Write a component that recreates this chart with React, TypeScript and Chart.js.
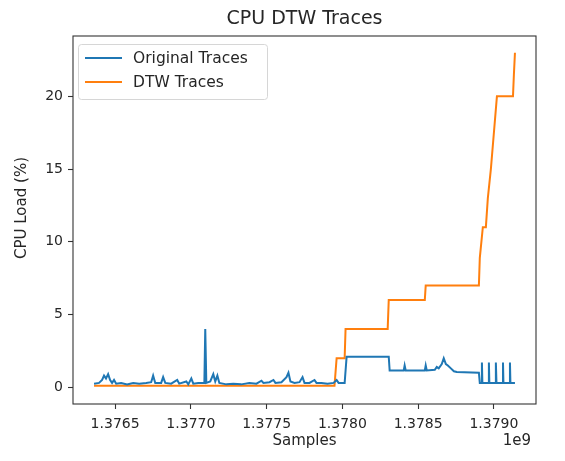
import React, { useEffect, useRef } from "react";
import { Chart, registerables } from "chart.js";

Chart.register(...registerables);

const chartTitle = "CPU DTW Traces";
const xAxisLabel = "Samples";
const yAxisLabel = "CPU Load (%)";
const xOffsetLabel = "1e9";
const seriesNames = ["Original Traces", "DTW Traces"];
const seriesColors = ["#1f77b4", "#ff7f0e"];

const xTicks = [1376500000, 1377000000, 1377500000, 1378000000, 1378500000, 1379000000];
const yTicks = [0, 5, 10, 15, 20];

const originalX = [
  1376361000, 1376394000, 1376414000, 1376427000, 1376440000, 1376454000, 1376467000, 1376480000,
  1376493000, 1376507000, 1376540000, 1376579000, 1376619000, 1376659000, 1376705000, 1376738000,
  1376751000, 1376765000, 1376804000, 1376817000, 1376831000, 1376870000, 1376910000, 1376923000,
  1376970000, 1376983000, 1377003000, 1377016000, 1377049000, 1377089000, 1377095000, 1377102000,
  1377128000, 1377148000, 1377161000, 1377175000, 1377188000, 1377234000, 1377280000, 1377333000,
  1377386000, 1377433000, 1377466000, 1377479000, 1377519000, 1377545000, 1377558000, 1377598000,
  1377631000, 1377644000, 1377657000, 1377684000, 1377717000, 1377737000, 1377750000, 1377783000,
  1377816000, 1377829000, 1377862000, 1377902000, 1377942000, 1377962000, 1377975000, 1378015000,
  1378028000, 1378306000, 1378312000, 1378405000, 1378411000, 1378418000, 1378544000, 1378550000,
  1378557000, 1378610000, 1378623000, 1378636000, 1378656000, 1378669000, 1378683000, 1378696000,
  1378716000, 1378736000, 1378755000, 1378901000, 1378907000, 1378917000, 1378921000, 1378924000,
  1378964000, 1378967000, 1378970000, 1379010000, 1379013000, 1379017000, 1379056000, 1379060000,
  1379063000, 1379103000, 1379106000, 1379109000, 1379139000,
];
const originalY = [
  0.25, 0.3, 0.5, 0.8, 0.6, 0.9, 0.5, 0.3,
  0.5, 0.25, 0.3, 0.2, 0.3, 0.25, 0.3, 0.35,
  0.8, 0.3, 0.3, 0.7, 0.3, 0.25, 0.5, 0.25,
  0.4, 0.2, 0.6, 0.25, 0.3, 0.3, 4.0, 0.3,
  0.4, 0.9, 0.4, 0.8, 0.3, 0.2, 0.25, 0.2,
  0.3, 0.25, 0.45, 0.3, 0.35, 0.5, 0.3, 0.35,
  0.7, 1.0, 0.4, 0.3, 0.35, 0.7, 0.3, 0.3,
  0.5, 0.3, 0.3, 0.25, 0.3, 0.5, 0.3, 0.3,
  2.1, 2.1, 1.15, 1.15, 1.5, 1.15, 1.15, 1.5,
  1.15, 1.2, 1.4, 1.3, 1.6, 2.0, 1.6, 1.5,
  1.3, 1.1, 1.05, 1.0, 0.3, 0.3, 1.7, 0.3,
  0.3, 1.7, 0.3, 0.3, 1.7, 0.3, 0.3, 1.7,
  0.3, 0.3, 1.7, 0.3, 0.3,
];

const dtwX = [
  1376361000, 1377948000, 1377962000, 1378015000, 1378021000, 1378299000, 1378306000, 1378544000,
  1378550000, 1378901000, 1378907000, 1378927000, 1378947000, 1378960000, 1378980000, 1379000000,
  1379020000, 1379126000, 1379132000, 1379139000,
];
const dtwY = [
  0.1, 0.1, 2.0, 2.0, 4.0, 4.0, 6.0, 6.0,
  7.0, 7.0, 8.9, 11.0, 11.0, 13.0, 15.0, 17.5,
  20.0, 20.0, 21.5, 23.0,
];

const FONT = "'DejaVu Sans', sans-serif";
const TEXT = "#262626";

const allX = originalX.concat(dtwX);
const allY = originalY.concat(dtwY);
const xLo = Math.min(...allX);
const xHi = Math.max(...allX);
const yHi = Math.max(...allY);
const xMin = xLo - 0.05 * (xHi - xLo);
const xMax = xHi + 0.05 * (xHi - xLo);
const yMin = 0 - 0.05 * yHi;
const yMax = yHi + 0.05 * yHi;

const decorPlugin = {
  id: "decor",
  afterDatasetsDraw(chart: any) {
    const { ctx, chartArea } = chart;
    const { left, right, top, bottom } = chartArea;
    ctx.save();
    // frame
    ctx.strokeStyle = "#333";
    ctx.lineWidth = 1.1;
    ctx.strokeRect(left, top, right - left, bottom - top);

    // legend
    const lx = 78.5, ly = 44.5, lw = 189, lh = 55;
    ctx.fillStyle = "rgba(255,255,255,0.8)";
    ctx.strokeStyle = "#d6d6d6";
    ctx.lineWidth = 1;
    ctx.beginPath();
    (ctx as any).roundRect(lx, ly, lw, lh, 3);
    ctx.fill();
    ctx.stroke();
    seriesNames.forEach((name, i) => {
      const yy = 58 + i * 24;
      ctx.strokeStyle = seriesColors[i];
      ctx.lineWidth = 2;
      ctx.beginPath();
      ctx.moveTo(85, yy);
      ctx.lineTo(122, yy);
      ctx.stroke();
      ctx.fillStyle = TEXT;
      ctx.font = `15.5px ${FONT}`;
      ctx.textAlign = "left";
      ctx.textBaseline = "middle";
      ctx.fillText(name, 133, yy + 1);
    });

    // title
    const cx = (left + right) / 2;
    ctx.fillStyle = TEXT;
    ctx.font = `19px ${FONT}`;
    ctx.textAlign = "center";
    ctx.textBaseline = "middle";
    ctx.fillText(chartTitle, cx, 19);

    // x label
    ctx.font = `15px ${FONT}`;
    ctx.fillText(xAxisLabel, cx, 441);

    // offset text
    ctx.textAlign = "right";
    ctx.fillText(xOffsetLabel, right - 5, 441);

    // y label
    ctx.translate(22, 208);
    ctx.rotate(-Math.PI / 2);
    ctx.textAlign = "center";
    ctx.fillText(yAxisLabel, 0, 0);
    ctx.restore();
  },
};

export default function App() {
  const ref = useRef<HTMLCanvasElement | null>(null);

  useEffect(() => {
    const canvas = ref.current;
    if (!canvas) return;
    const chart = new Chart(canvas, {
      type: "line",
      data: {
        datasets: [
          {
            label: seriesNames[0],
            data: originalX.map((x, i) => ({ x, y: originalY[i] })),
            borderColor: seriesColors[0],
            backgroundColor: seriesColors[0],
            borderWidth: 2,
            pointRadius: 0,
            tension: 0,
            fill: false,
          },
          {
            label: seriesNames[1],
            data: dtwX.map((x, i) => ({ x, y: dtwY[i] })),
            borderColor: seriesColors[1],
            backgroundColor: seriesColors[1],
            borderWidth: 2,
            pointRadius: 0,
            tension: 0,
            fill: false,
          },
        ],
      },
      options: {
        responsive: false,
        animation: false,
        devicePixelRatio: 1,
        layout: { padding: { left: 0, right: 29, top: 36, bottom: 0 } },
        plugins: {
          legend: { display: false },
          title: { display: false },
          tooltip: { enabled: false },
        },
        scales: {
          x: {
            type: "linear",
            min: xMin,
            max: xMax,
            afterBuildTicks: (s: any) => {
              s.ticks = xTicks.map((v) => ({ value: v }));
            },
            afterFit: (s: any) => {
              s.height = 57;
            },
            ticks: {
              callback: (v: any) => (Number(v) / 1e9).toFixed(4),
              font: { family: FONT, size: 14 },
              color: TEXT,
              maxRotation: 0,
              autoSkip: false,
              padding: 7,
            },
            grid: {
              drawOnChartArea: false,
              drawTicks: true,
              tickLength: 5,
              tickColor: "#333",
              tickWidth: 1.1,
            },
            border: { display: false },
          },
          y: {
            type: "linear",
            min: yMin,
            max: yMax,
            afterBuildTicks: (s: any) => {
              s.ticks = yTicks.map((v) => ({ value: v }));
            },
            afterFit: (s: any) => {
              s.width = 73;
            },
            ticks: {
              callback: (v: any) => String(v),
              font: { family: FONT, size: 14 },
              color: TEXT,
              autoSkip: false,
              padding: 5,
            },
            grid: {
              drawOnChartArea: false,
              drawTicks: true,
              tickLength: 5,
              tickColor: "#333",
              tickWidth: 1.1,
            },
            border: { display: false },
          },
        },
      },
      plugins: [decorPlugin],
    });
    return () => chart.destroy();
  }, []);

  return (
    <div style={{ position: "fixed", left: 0, top: 0, width: 565, height: 461, background: "#fff" }}>
      <canvas ref={ref} width={565} height={461} style={{ width: 565, height: 461, display: "block" }} />
    </div>
  );
}
